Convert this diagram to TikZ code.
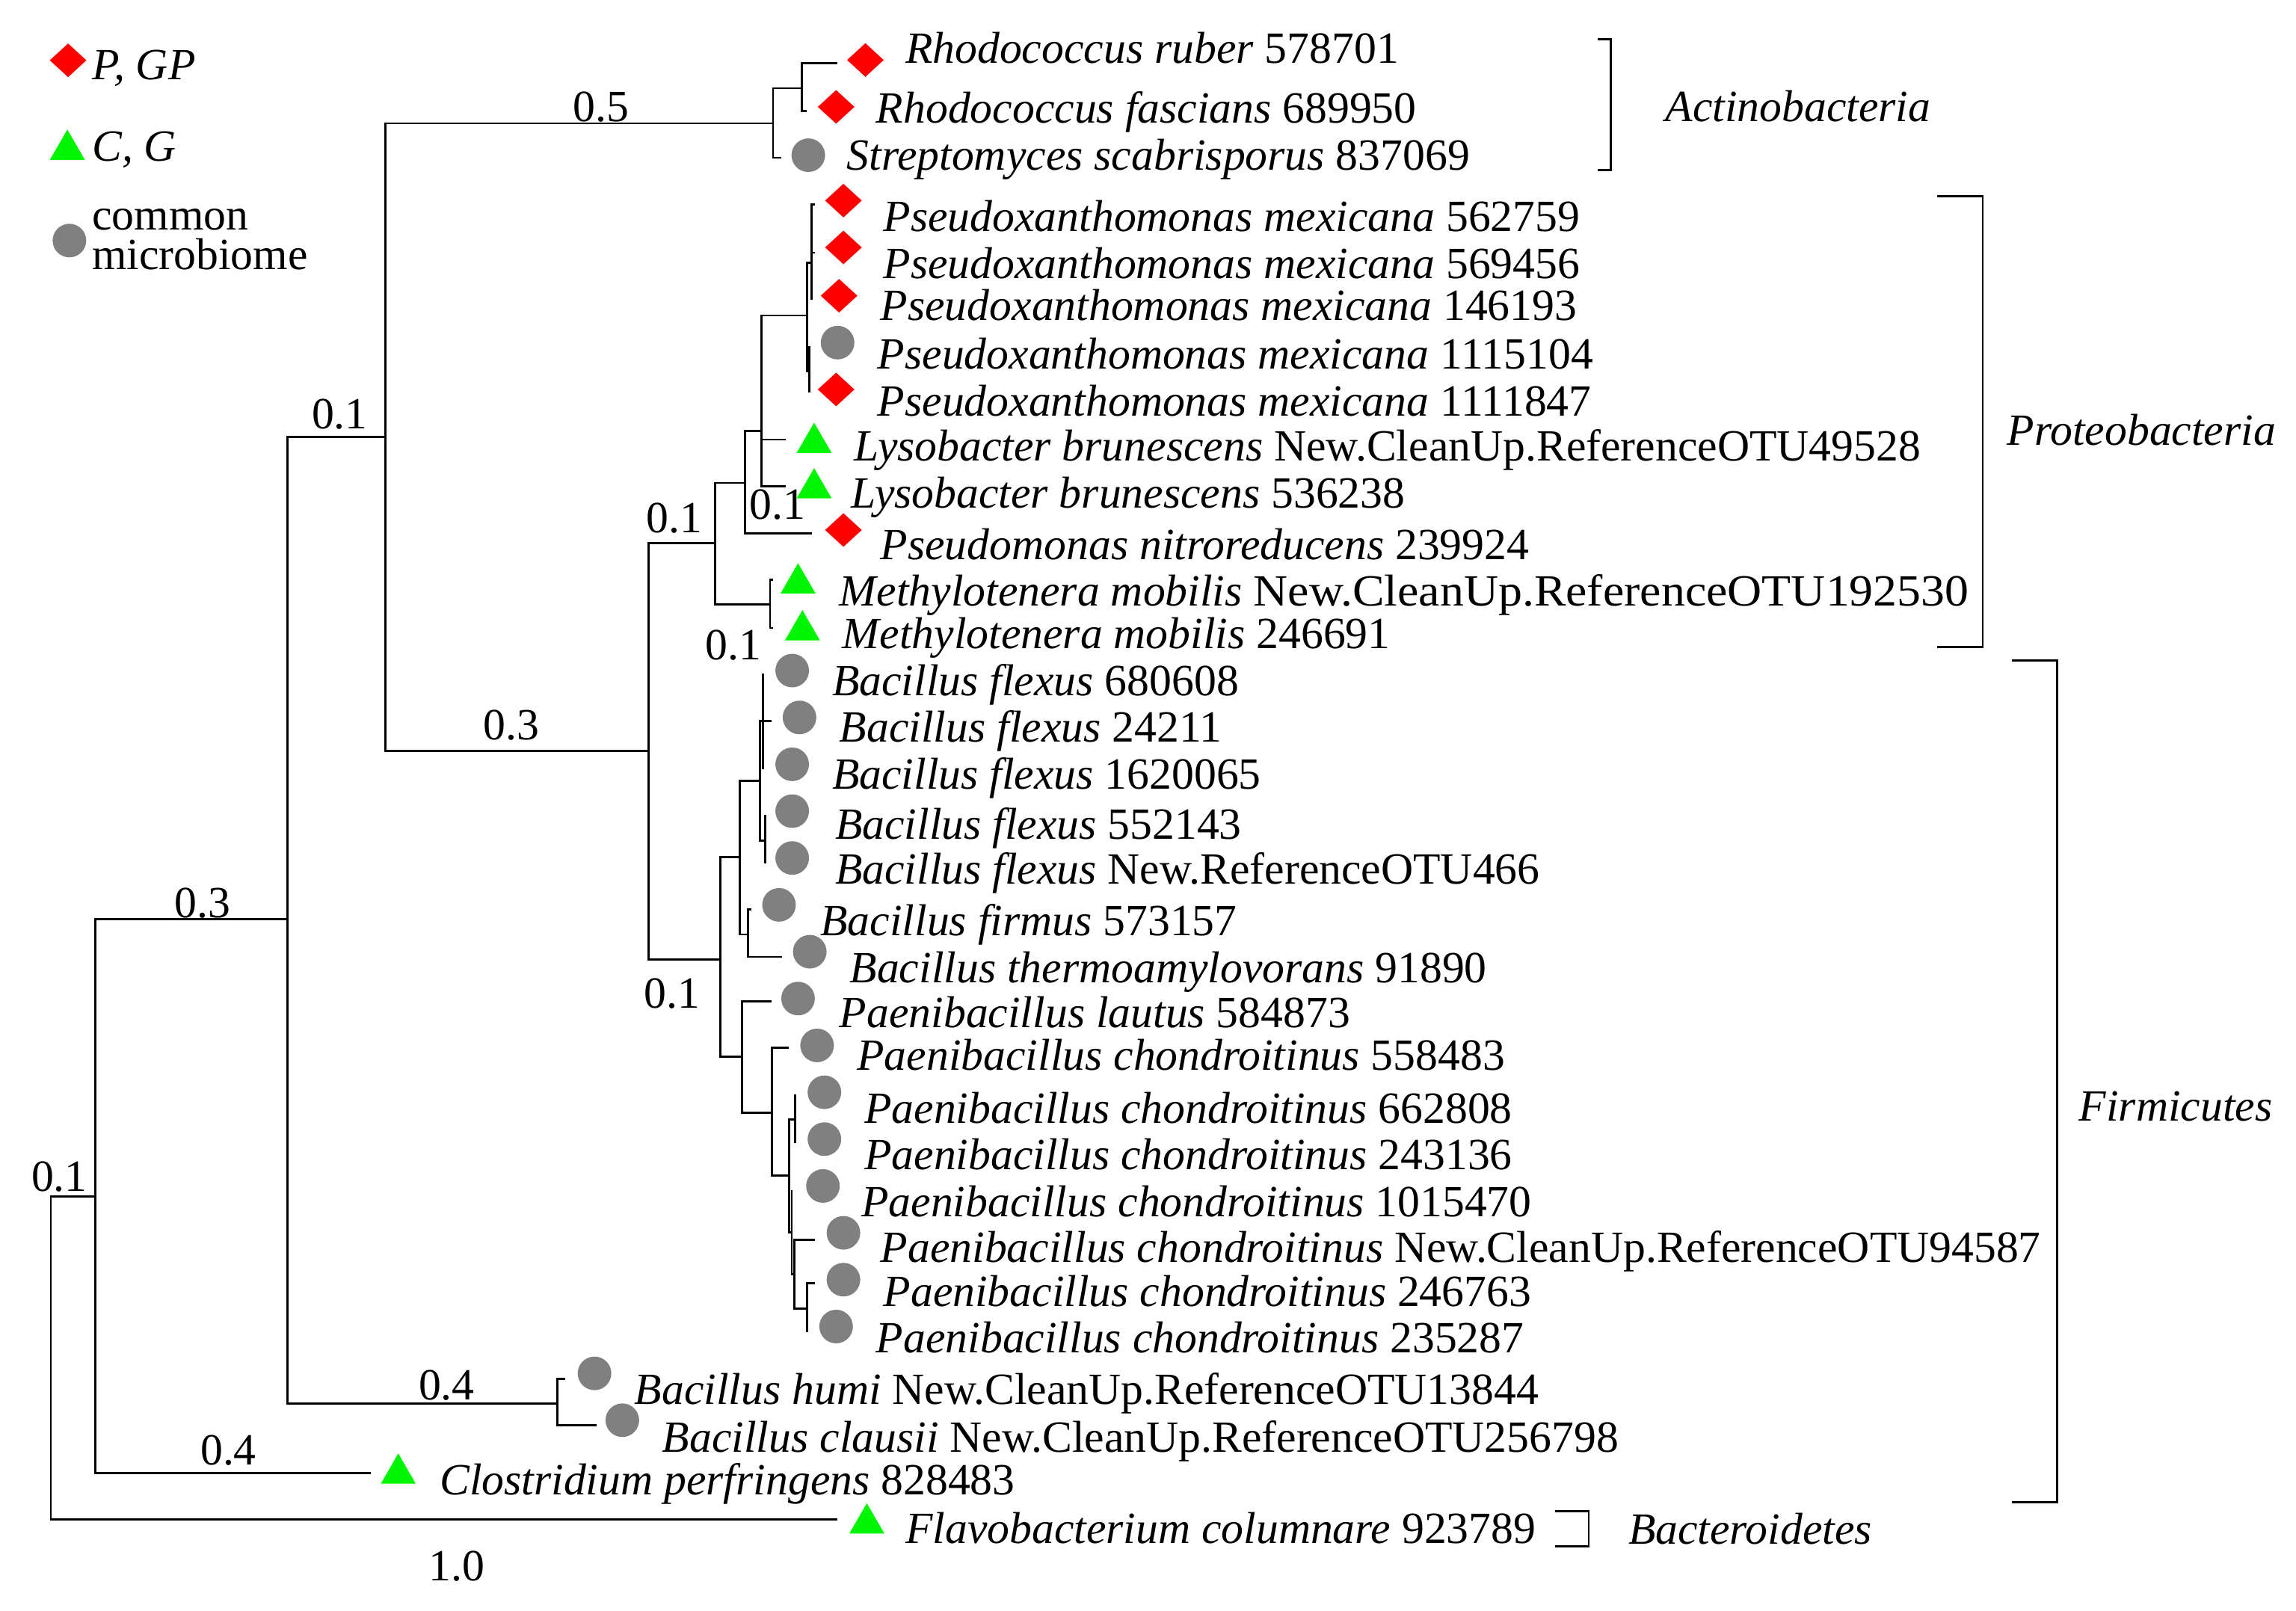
\documentclass[tikz,border=0pt]{standalone}
\usepackage{fontspec}
\usepackage{graphicx}
\setmainfont{Liberation Serif}
\usetikzlibrary{shapes.geometric}
\definecolor{pgpred}{RGB}{255,0,0}
\definecolor{cggreen}{RGB}{0,245,0}
\definecolor{cmgrey}{RGB}{128,128,128}
\tikzset{
    % tree branches
    branch/.style={
        draw=black,
        line width=0.8pt,
    },
    base/.style={
        draw=none,
        inner sep=0pt,
        outer sep=0pt,
    },
    % P, GP
    pgp/.style={
        base,
        fill=pgpred,
        diamond,
        minimum width=0.49cm,
        minimum height=0.45cm,
    },
    % C, G
    cg/.style={
        base,
        fill=cggreen,
        regular polygon,
        regular polygon sides=3,
        minimum size=0.54cm,
        yshift=-0.068cm,
    },
    % common microbiome
    common/.style={
        base,
        fill=cmgrey,
        circle,
        minimum size=0.45cm,
    },
    % leaf names
    taxon/.style={
        anchor=base west,
        inner sep=0pt,
        font=\fontsize{17}{20}\selectfont,
    },
    % branch lengths
    blen/.style={
        anchor=base,
        inner sep=0pt,
        font=\fontsize{17}{20}\selectfont,
    },
    % phylum brackets
    clade/.style={
        draw=black,
        line width=0.8pt,
    },
    phylum/.style={
        anchor=base west,
        inner sep=0pt,
        font=\fontsize{17}{20}\selectfont\itshape,
    },
}

\begin{document}
\begin{tikzpicture}[x=0.0196cm,y=-0.0196cm]
\useasboundingbox (0,0) rectangle (1568,1100);

%LEGEND_BEGIN%
    \node[pgp] (key-pgp) at (46.5,41.2) {};
    \node[taxon] (key-pgp-t) at (62.6,54.6) {\textit{P, GP}};
    \node[cg] (key-cg) at (46,98.8) {};
    \node[taxon] (key-cg-t) at (62.6,110) {\textit{C, G}};
    \node[common] (key-cm) at (47.4,164.3) {};
    \node[taxon,align=left,font=\fontsize{17}{15.2}\selectfont] (key-cm-t) at (62.6,184) {common\\microbiome};
%LEGEND_END%

%TREE_BEGIN%
    % internal nodes
    \coordinate (root) at (34.7,927);
    \coordinate (nA) at (65.1,817);
    \coordinate (nB) at (196.5,627.8);
    \coordinate (nHC) at (380.5,958.5);
    \coordinate (nC) at (263,298.3);
    \coordinate (nAct) at (527.9,84.2);
    \coordinate (nRh) at (547.6,60.3);
    \coordinate (nPF) at (442.8,512.9);
    \coordinate (nProt) at (488.3,370.8);
    \coordinate (nMeth) at (525.9,412.9);
    \coordinate (nPL) at (508.8,329.8);
    \coordinate (nPL2) at (520.2,294.5);
    \coordinate (nPx) at (551,215.5);
    \coordinate (nPxA) at (554.4,179.5);
    \coordinate (nPxB) at (552.6,253.5);
    \coordinate (nFirm) at (491.8,655.2);
    \coordinate (nBac) at (505.4,585.3);
    \coordinate (nFl) at (519.1,533.3);
    \coordinate (nFlA) at (520.9,492.4);
    \coordinate (nFlB) at (522.5,574.2);
    \coordinate (nFT) at (511,638.2);
    \coordinate (nPae) at (506.6,721.5);
    \coordinate (nP1) at (527,760);
    \coordinate (nP2) at (538.9,802.7);
    \coordinate (nP3) at (543,764.5);
    \coordinate (nP4) at (540.7,841.7);
    \coordinate (nP5) at (542.5,870.4);
    \coordinate (nP6) at (551,893.7);

    % branch tips
    \coordinate (e1) at (572,43.3);
    \coordinate (e2) at (551,75.8);
    \coordinate (e3) at (533.3,107.7);
    \coordinate (e4) at (556.6,139.6);
    \coordinate (e5) at (556.6,172.6);
    \coordinate (e6) at (554.4,204.5);
    \coordinate (e7) at (552.6,236.4);
    \coordinate (e8) at (552.6,268.3);
    \coordinate (e9) at (536.4,300.2);
    \coordinate (e10) at (536.4,332);
    \coordinate (e11) at (554.4,364.4);
    \coordinate (e12) at (528,395.8);
    \coordinate (e13) at (528,428.9);
    \coordinate (e14) at (520.9,460);
    \coordinate (e15) at (527.1,492.4);
    \coordinate (e16) at (520.9,525.6);
    \coordinate (e17) at (522.5,556.3);
    \coordinate (e18) at (522.5,589.6);
    \coordinate (e19) at (512.9,621);
    \coordinate (e20) at (534,653.5);
    \coordinate (e21) at (527,683.8);
    \coordinate (e22) at (538.5,715.5);
    \coordinate (e23) at (543,747.5);
    \coordinate (e24) at (543,780.7);
    \coordinate (e25) at (540.7,813);
    \coordinate (e26) at (556.6,846.9);
    \coordinate (e27) at (556.6,876.3);
    \coordinate (e28) at (551,909.8);
    \coordinate (e29) at (386,941.7);
    \coordinate (e30) at (407.3,973.3);
    \coordinate (e31) at (253.4,1005.9);
    \coordinate (e32) at (572,1037.8);

    % branches
    \draw[branch] (root) |- (nA) (root) |- (e32);
    \draw[branch] (nA) |- (nB) (nA) |- (e31);
    \draw[branch] (nB) |- (nC) (nB) |- (nHC);
    \draw[branch] (nHC) |- (e29) (nHC) |- (e30);
    \draw[branch] (nC) |- (nAct) (nC) |- (nPF);
    \draw[branch] (nAct) |- (nRh) (nAct) |- (e3);
    \draw[branch] (nRh) |- (e1) (nRh) |- (e2);
    \draw[branch] (nPF) |- (nProt) (nPF) |- (nFirm);
    \draw[branch] (nProt) |- (nPL) (nProt) |- (nMeth);
    \draw[branch] (nMeth) |- (e12) (nMeth) |- (e13);
    \draw[branch] (nPL) |- (nPL2) (nPL) |- (e11);
    \draw[branch] (nPL2) |- (nPx) (nPL2) |- (e9) (nPL2) |- (e10);
    \draw[branch] (nPx) |- (nPxA) (nPx) |- (nPxB);
    \draw[branch] (nPxA) |- (e4) (nPxA) |- (e5) (nPxA) |- (e6);
    \draw[branch] (nPxB) |- (e7) (nPxB) |- (e8);
    \draw[branch] (nFirm) |- (nBac) (nFirm) |- (nPae);
    \draw[branch] (nBac) |- (nFl) (nBac) |- (nFT);
    \draw[branch] (nFl) |- (nFlA) (nFl) |- (nFlB);
    \draw[branch] (nFlA) |- (e14) (nFlA) |- (e15) (nFlA) |- (e16);
    \draw[branch] (nFlB) |- (e17) (nFlB) |- (e18);
    \draw[branch] (nFT) |- (e19) (nFT) |- (e20);
    \draw[branch] (nPae) |- (e21) (nPae) |- (nP1);
    \draw[branch] (nP1) |- (e22) (nP1) |- (nP2);
    \draw[branch] (nP2) |- (nP3) (nP2) |- (nP4);
    \draw[branch] (nP3) |- (e23) (nP3) |- (e24);
    \draw[branch] (nP4) |- (e25) (nP4) |- (nP5);
    \draw[branch] (nP5) |- (e26) (nP5) |- (nP6);
    \draw[branch] (nP6) |- (e27) (nP6) |- (e28);

    % branch lengths
    \node[blen] (bl-act) at (410.5,83) {0.5};
    \node[blen] (bl-c) at (232,292.6) {0.1};
    \node[blen] (bl-pf) at (349,505) {0.3};
    \node[blen] (bl-prot) at (460.5,364) {0.1};
    \node[blen] (bl-pl2) at (531,354.8) {0.1};
    \node[blen] (bl-meth) at (501,450.5) {0.1};
    \node[blen] (bl-firm) at (459,688.3) {0.1};
    \node[blen] (bl-b) at (138.5,626.5) {0.3};
    \node[blen] (bl-a) at (40.5,813.6) {0.1};
    \node[blen] (bl-hc) at (305,956) {0.4};
    \node[blen] (bl-clo) at (156,1000.6) {0.4};
    \node[blen] (bl-root) at (312,1079.7) {1.0};
%TREE_END%

%LEAVES_BEGIN%
    \node[pgp] (m1) at (591,41) {};
    \node[taxon] (t1) at (618,43) {\textit{Rhodococcus ruber} 578701};
    \node[pgp] (m2) at (571,73) {};
    \node[taxon] (t2) at (598,84) {\textit{Rhodococcus fascians} 689950};
    \node[common] (m3) at (552,106) {};
    \node[taxon] (t3) at (578,116) {\textit{Streptomyces scabrisporus} 837069};
    \node[pgp] (m4) at (576,137) {};
    \node[taxon] (t4) at (603,158) {\textit{Pseudoxanthomonas mexicana} 562759};
    \node[pgp] (m5) at (576,169) {};
    \node[taxon] (t5) at (603,190) {\textit{Pseudoxanthomonas mexicana} 569456};
    \node[pgp] (m6) at (573,202) {};
    \node[taxon] (t6) at (601,219) {\textit{Pseudoxanthomonas mexicana} 146193};
    \node[common] (m7) at (572,234) {};
    \node[taxon] (t7) at (599,252) {\textit{Pseudoxanthomonas mexicana} 1115104};
    \node[pgp] (m8) at (571,266) {};
    \node[taxon] (t8) at (599,284) {\textit{Pseudoxanthomonas mexicana} 1111847};
    \node[cg] (m9) at (556,299) {};
    \node[taxon] (t9) at (583,315) {\textit{Lysobacter brunescens} New.CleanUp.ReferenceOTU49528};
    \node[cg] (m10) at (556,330) {};
    \node[taxon] (t10) at (581,347) {\textit{Lysobacter brunescens} 536238};
    \node[pgp] (m11) at (576,362) {};
    \node[taxon] (t11) at (601,382) {\textit{Pseudomonas nitroreducens} 239924};
    \node[cg] (m12) at (545,395) {};
    \node[taxon] (t12) at (573,414) {\textit{Methylotenera mobilis} \scalebox{1.07}[1]{New.CleanUp.ReferenceOTU192530}};
    \node[cg] (m13) at (548,427) {};
    \node[taxon] (t13) at (575,443) {\textit{Methylotenera mobilis} 246691};
    \node[common] (m14) at (541,458) {};
    \node[taxon] (t14) at (568,475) {\textit{Bacillus flexus} 680608};
    \node[common] (m15) at (546,490) {};
    \node[taxon] (t15) at (573,507) {\textit{Bacillus flexus} 24211};
    \node[common] (m16) at (541,522) {};
    \node[taxon] (t16) at (568,539) {\textit{Bacillus flexus} 1620065};
    \node[common] (m17) at (541,554) {};
    \node[taxon] (t17) at (570,573) {\textit{Bacillus flexus} 552143};
    \node[common] (m18) at (541,586) {};
    \node[taxon] (t18) at (570,604) {\textit{Bacillus flexus} New.ReferenceOTU466};
    \node[common] (m19) at (532,618) {};
    \node[taxon] (t19) at (560,639) {\textit{Bacillus firmus} 573157};
    \node[common] (m20) at (553,650) {};
    \node[taxon] (t20) at (580,671) {\textit{Bacillus thermoamylovorans} 91890};
    \node[common] (m21) at (545,682) {};
    \node[taxon] (t21) at (573,702) {\textit{Paenibacillus lautus} 584873};
    \node[common] (m22) at (558,714) {};
    \node[taxon] (t22) at (585,731) {\textit{Paenibacillus chondroitinus} 558483};
    \node[common] (m23) at (563,746) {};
    \node[taxon] (t23) at (590,767) {\textit{Paenibacillus chondroitinus} 662808};
    \node[common] (m24) at (563,778) {};
    \node[taxon] (t24) at (590,799) {\textit{Paenibacillus chondroitinus} 243136};
    \node[common] (m25) at (562,810) {};
    \node[taxon] (t25) at (588,831) {\textit{Paenibacillus chondroitinus} 1015470};
    \node[common] (m26) at (576,842) {};
    \node[taxon] (t26) at (601,862) {\textit{Paenibacillus chondroitinus} New.CleanUp.ReferenceOTU94587};
    \node[common] (m27) at (576,874) {};
    \node[taxon] (t27) at (603,892) {\textit{Paenibacillus chondroitinus} 246763};
    \node[common] (m28) at (571,906) {};
    \node[taxon] (t28) at (598,924) {\textit{Paenibacillus chondroitinus} 235287};
    \node[common] (m29) at (406,938) {};
    \node[taxon] (t29) at (433,959) {\textit{Bacillus humi} New.CleanUp.ReferenceOTU13844};
    \node[common] (m30) at (425,970) {};
    \node[taxon] (t30) at (452,992) {\textit{Bacillus clausii} New.CleanUp.ReferenceOTU256798};
    \node[cg] (m31) at (272,1003) {};
    \node[taxon] (t31) at (300,1021) {\textit{Clostridium perfringens} 828483};
    \node[cg] (m32) at (592,1037) {};
    \node[taxon] (t32) at (618,1054) {\textit{Flavobacterium columnare} 923789};
%LEAVES_END%

%CLADES_BEGIN%
    \coordinate (act-top) at (1091,26.7);
    \coordinate (act-bot) at (1100,116.2);
    \draw[clade] (act-top) -| (act-bot) -- (act-top |- act-bot);
    \node[phylum] (act) at (1137,83) {Actinobacteria};

    \coordinate (prot-top) at (1323,134);
    \coordinate (prot-bot) at (1354,442);
    \draw[clade] (prot-top) -| (prot-bot) -- (prot-top |- prot-bot);
    \node[phylum] (prot) at (1370.5,304) {Proteobacteria};

    \coordinate (firm-top) at (1374,451);
    \coordinate (firm-bot) at (1405,1026);
    \draw[clade] (firm-top) -| (firm-bot) -- (firm-top |- firm-bot);
    \node[phylum] (firm) at (1419.5,765.5) {Firmicutes};

    \coordinate (bact-top) at (1062,1032);
    \coordinate (bact-bot) at (1085,1056);
    \draw[clade] (bact-top) -| (bact-bot) -- (bact-top |- bact-bot);
    \node[phylum] (bact) at (1111.7,1054.6) {Bacteroidetes};
%CLADES_END%
\end{tikzpicture}
\end{document}
